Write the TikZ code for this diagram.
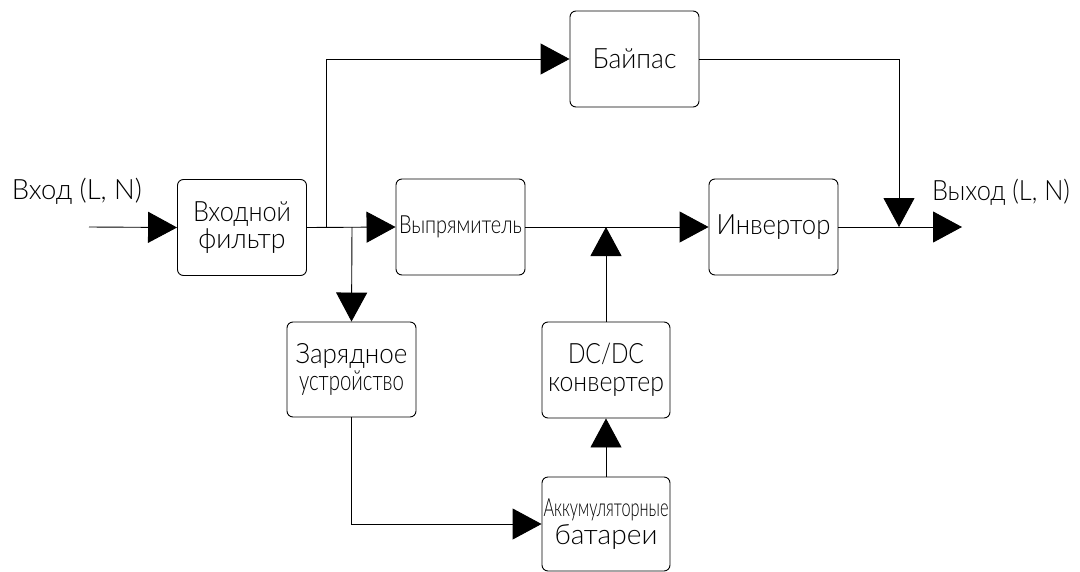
\documentclass[tikz,border=0pt]{standalone}
\usepackage{fontspec}
\setmainfont{Lato}[UprightFont={* Light}]
\usetikzlibrary{arrows.meta}
\newcommand{\fw}[2]{\resizebox{#1pt}{\height}{#2}}
\begin{document}
\begin{tikzpicture}[x=1pt,y=-1pt,
  box/.style={draw, rounded corners=6pt, inner sep=0pt, line width=0.9pt,
    align=center, font=\fontsize{28}{27.5}\selectfont},
  lbl/.style={inner sep=0pt, anchor=base, font=\fontsize{28}{28}\selectfont},
  wire/.style={line width=0.9pt},
  >={Triangle[length=29pt,width=31pt]}]
\useasboundingbox (0,0) rectangle (1080,571);
\fill[white] (0,0) rectangle (1080,571);
% boxes
\node[box, minimum width=129pt, minimum height=96pt] (filt) at (242,227.5)
  {\fw{98}{Входной}\\\fw{87}{фильтр}};
\node[box, minimum width=129pt, minimum height=96pt] (rect) at (460.5,227)
  {\fontsize{25}{25}\selectfont\fw{123}{Выпрямитель}};
\node[box, minimum width=129pt, minimum height=96pt] (inv) at (773.5,227)
  {\fw{114}{Инвертор}};
\node[box, minimum width=129pt, minimum height=96pt] (byp) at (634.5,59)
  {\fw{84}{Байпас}};
\node[box, minimum width=129pt, minimum height=95pt] (chg) at (351.5,369.5)
  {\fw{112}{Зарядное}\\\fw{105}{устройство}};
\node[box, minimum width=128pt, minimum height=96pt] (dcdc) at (606,370)
  {\fw{76}{DC/DC}\\\fw{116}{конвертер}};
\node[box, minimum width=128pt, minimum height=94pt] (bat) at (606,524)
  {\fontsize{25}{27.5}\selectfont\fw{125}{Аккумуляторные}\\\fontsize{28}{27.5}\selectfont\fw{103}{батареи}};
% labels
\node[lbl] (inlbl) at (77,199) {\fw{130}{Вход (L, N)}};
\node[lbl] (outlbl) at (1001,200) {\fw{138}{Выход (L, N)}};
% coordinates
\coordinate (in) at (89,227);
\coordinate (j1) at (326,227);
\coordinate (j2) at (352,227);
\coordinate (j3) at (606,227);
\coordinate (j4) at (899,227);
\coordinate (out) at (962,227);
% connectors
\draw[wire,->] (in) -- (filt.west);
\draw[wire,->] (filt.east) -- (rect.west);
\draw[wire,->] (j1) |- (byp.west);
\draw[wire,->] (j2) -- (chg.north);
\draw[wire,->] (rect.east) -- (inv.west);
\draw[wire,->] (dcdc.north) -- (j3);
\draw[wire,->] (bat.north) -- (dcdc.south);
\draw[wire,->] (chg.south) |- (bat.west);
\draw[wire,->] (byp.east) -| (j4);
\draw[wire,->] (inv.east) -- (out);
\end{tikzpicture}
\end{document}
